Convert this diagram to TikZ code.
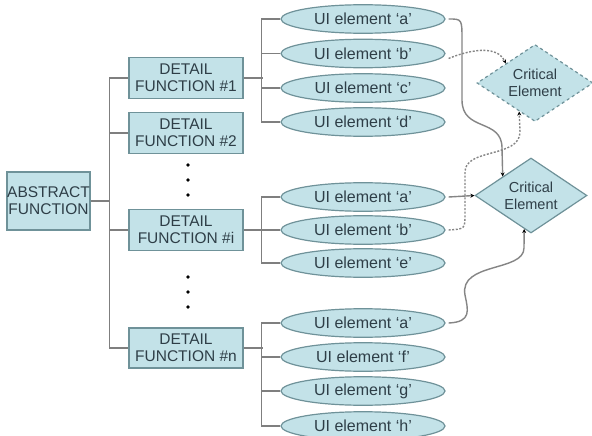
\documentclass[tikz,border=0pt]{standalone}
\usepackage{fontspec}
\setmainfont{Liberation Sans}
\usetikzlibrary{shapes.geometric,arrows.meta,calc}
\definecolor{boxfill}{HTML}{C3E2E8}
\definecolor{boxline}{HTML}{6F9299}
\definecolor{txt}{HTML}{2E3E47}
\definecolor{treeline}{HTML}{7F7F7F}
\definecolor{connline}{HTML}{858585}
\begin{document}
\begin{tikzpicture}[x=1pt,y=-1pt,
  fbox/.style={draw=boxline,fill=boxfill,line width=1.2pt,text=txt,inner sep=0pt,
    align=center,font=\fontsize{15.5}{17}\selectfont},
  uiel/.style={ellipse,draw=boxline,fill=boxfill,line width=1.2pt,text=txt,inner sep=0pt,
    minimum width=164pt,minimum height=28.5pt,font=\fontsize{16}{18}\selectfont},
  crit/.style={diamond,draw=boxline,fill=boxfill,line width=1.2pt,text=txt,inner sep=0pt,
    align=center,font=\fontsize{14.5}{17}\selectfont,aspect=1.45},
  tree/.style={draw=treeline,line width=1.3pt},
  conn/.style={draw=connline,line width=1.4pt,-{Stealth[length=4pt,width=4pt,black]}},
  dconn/.style={conn,dash pattern=on 2pt off 1.6pt},
  dotmark/.style={circle,fill=black,inner sep=0pt,minimum size=3.6pt}
]
\useasboundingbox[fill=white] (0,0) rectangle (592,436);

% abstract and detail functions
\node[fbox,minimum width=83pt,minimum height=58pt] (abs) at (48.5,201) {ABSTRACT\\FUNCTION};
\node[fbox,minimum width=114pt,minimum height=41pt] (df1) at (186,78) {DETAIL\\FUNCTION \#1};
\node[fbox,minimum width=114pt,minimum height=41pt] (df2) at (186,133) {DETAIL\\FUNCTION \#2};
\node[fbox,minimum width=114pt,minimum height=41pt] (dfi) at (186,230) {DETAIL\\FUNCTION \#i};
\node[fbox,minimum width=114pt,minimum height=40pt] (dfn) at (186,348) {DETAIL\\FUNCTION \#n};

% vertical dots
\node[dotmark] (d1) at (188,165) {};
\node[dotmark] (d2) at (188,180) {};
\node[dotmark] (d3) at (188,195) {};
\node[dotmark] (d4) at (188,277) {};
\node[dotmark] (d5) at (188,292) {};
\node[dotmark] (d6) at (188,307) {};

% UI elements
\node[uiel] (ea1) at (363,19) {UI element ‘a’};
\node[uiel] (eb1) at (363,53.5) {UI element ‘b’};
\node[uiel] (ec1) at (363,88) {UI element ‘c’};
\node[uiel] (ed1) at (363,122) {UI element ‘d’};
\node[uiel] (ea2) at (363,197) {UI element ‘a’};
\node[uiel] (eb2) at (363,230) {UI element ‘b’};
\node[uiel] (ee2) at (363,263) {UI element ‘e’};
\node[uiel] (ea3) at (363,323) {UI element ‘a’};
\node[uiel] (ef3) at (363,357) {UI element ‘f’};
\node[uiel] (eg3) at (363,391) {UI element ‘g’};
\node[uiel] (eh3) at (363,426) {UI element ‘h’};

% critical elements
\node[crit,dashed,minimum width=116pt,minimum height=77pt] (cd1) at (535,83) {Critical\\Element};
\node[crit,minimum width=112pt,minimum height=75pt] (cd2) at (531,195.5) {Critical\\Element};

% tree: abstract -> detail functions
\draw[tree] (df1.west) -- ++(-19,0) |- (dfn.west);
\draw[tree] (df2.west) -- ++(-19,0);
\draw[tree] (dfi.west) -- ++(-19,0);
\draw[tree] (abs.east) -- ([xshift=-19pt]df1.west |- abs.east);

% tree: detail functions -> UI elements
\draw[tree] (df1.east) -- ([xshift=19pt]df1.east);
\draw[tree] (ea1.west) -- ++(-19,0) |- (ed1.west);
\draw[tree] (eb1.west) -- ++(-19,0);
\draw[tree] (ec1.west) -- ++(-19,0);

\draw[tree] (dfi.east) -- ([xshift=19pt]dfi.east);
\draw[tree] (ea2.west) -- ++(-19,0) |- (ee2.west);
\draw[tree] (eb2.west) -- ++(-19,0);

\draw[tree] (dfn.east) -- ([xshift=19pt]dfn.east);
\draw[tree] (ea3.west) -- ++(-19,0) |- (eh3.west);
\draw[tree] (ef3.west) -- ++(-19,0);
\draw[tree] (eg3.west) -- ++(-19,0);

% connectors to critical elements
\coordinate (t1) at ($(cd1.south)!0.27!(cd1.west)$);
\coordinate (t2) at ($(cd2.south)!0.12!(cd2.west)$);
\draw[conn] ([xshift=3pt]ea1.east) .. controls (462,19) .. (462,40) -- (462,100)
  .. controls (462,132) and (502,118) .. (502,148) -- (cd2.north west);
\draw[dconn] ([xshift=3pt,yshift=-5pt]eb1.east) .. controls (482,45) and (500,50) .. (cd1.north west);
\draw[conn] ([xshift=3pt]ea2.east) -- (cd2.west);
\draw[dconn] ([xshift=3pt]eb2.east) .. controls (465,229) .. (465,214) -- (465,172)
  .. controls (465,148) and (520,158) .. (520,132) -- (t1);
\draw[conn] ([xshift=3pt]ea3.east) .. controls (472,322) and (468,310) .. (465,295)
  .. controls (459,262) and (524,272) .. (524,248) -- (t2);
\end{tikzpicture}
\end{document}
